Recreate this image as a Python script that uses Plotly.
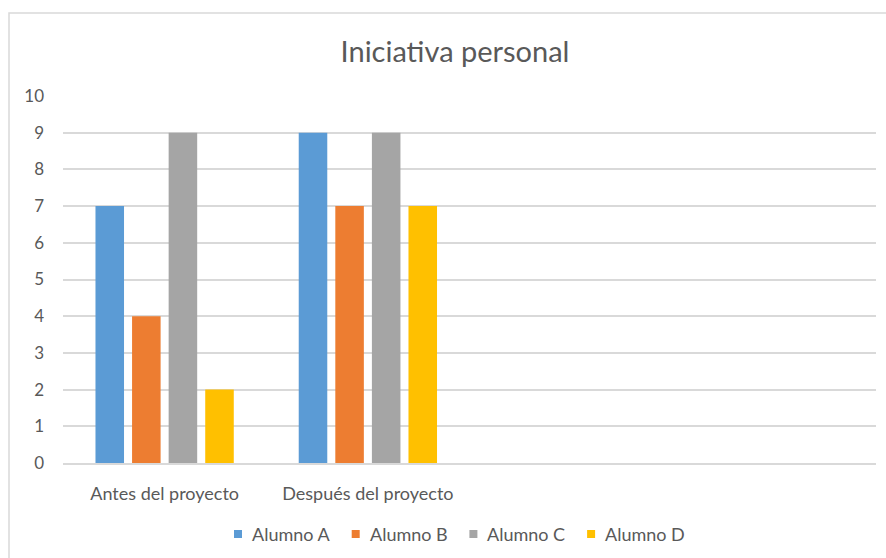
import plotly.graph_objects as go

categories = ["Antes del proyecto", "Después del proyecto"]
series_names = ["Alumno A", "Alumno B", "Alumno C", "Alumno D"]
alumno_a = [7, 9]
alumno_b = [4, 7]
alumno_c = [9, 9]
alumno_d = [2, 7]
colors = ["#5B9BD5", "#ED7D31", "#A5A5A5", "#FFC000"]
y_ticks = list(range(0, 11))

W, H = 886, 558
L, R, T, B = 63, 10, 96, 95
pw = W - L - R
ph = H - T - B

fig = go.Figure()
for name, vals, col in zip(series_names, [alumno_a, alumno_b, alumno_c, alumno_d], colors):
    fig.add_trace(go.Bar(x=categories, y=vals, name=name, showlegend=False,
                         marker=dict(color=col, line=dict(width=0))))

font_family = "Lato, 'Open Sans', sans-serif"
txt_color = "#595959"

def px_x(p):
    return (p - L) / pw

def px_y(p):
    return (H - B - p) / ph

# manual legend (squares + labels)
shapes = [dict(type="rect", xref="paper", yref="paper",
               x0=px_x(9), x1=px_x(900), y0=px_y(570), y1=px_y(13),
               line=dict(color="#d9d9d9", width=1.5), fillcolor="rgba(0,0,0,0)", layer="below")]
annotations = []
leg_start, leg_pitch, leg_y, sq = 234, 117.7, 534, 8
for i, (name, col) in enumerate(zip(series_names, colors)):
    x0 = leg_start + i * leg_pitch
    shapes.append(dict(type="rect", xref="paper", yref="paper",
                       x0=px_x(x0), x1=px_x(x0 + sq), y0=px_y(leg_y + sq / 2), y1=px_y(leg_y - sq / 2),
                       line=dict(width=0), fillcolor=col))
    annotations.append(dict(text=name, xref="paper", yref="paper", x=px_x(x0 + 16), y=px_y(leg_y),
                            xanchor="left", yanchor="middle", showarrow=False,
                            font=dict(size=18, color=txt_color, family=font_family)))

fig.update_layout(
    width=W, height=H,
    margin=dict(l=L, r=R, t=T, b=B),
    paper_bgcolor="white", plot_bgcolor="white",
    barmode="group", bargap=0.28, bargroupgap=0.22,
    font=dict(family=font_family, color=txt_color, size=18),
    title=dict(text="Iniciativa personal", x=px_x(455), xref="paper", xanchor="center",
               y=1 - 52 / H, yanchor="middle", font=dict(size=29, color=txt_color, family=font_family)),
    xaxis=dict(type="category", range=[-0.5, 3.5], showgrid=False, showline=True,
               linecolor="#d9d9d9", linewidth=1.5, ticks="", ticklen=0, ticklabelstandoff=14,
               tickfont=dict(size=18, color=txt_color)),
    yaxis=dict(range=[0, 10], tickvals=y_ticks, showgrid=True, gridcolor="#d9d9d9", gridwidth=1.5,
               zeroline=False, showline=False, ticks="", ticklabelstandoff=18,
               tickfont=dict(size=17, color=txt_color)),
    showlegend=False,
    shapes=shapes,
    annotations=annotations,
)

fig.write_html("out.html")
